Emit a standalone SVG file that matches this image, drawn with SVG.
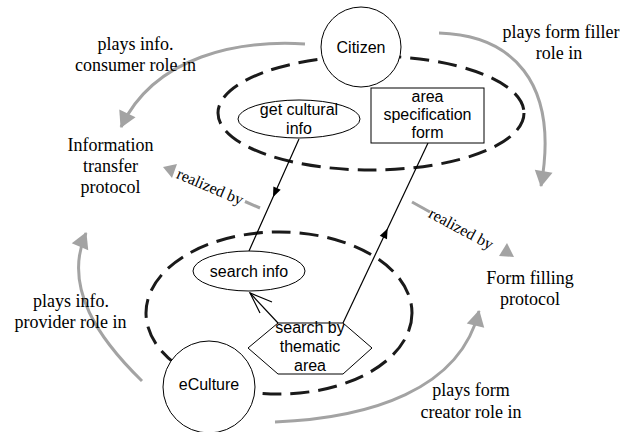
<svg xmlns="http://www.w3.org/2000/svg" width="624" height="432" viewBox="0 0 624 432">
<style>
.bg{fill:#fff}
.dash{fill:none;stroke:#1a1a1a;stroke-width:3;stroke-dasharray:19 9}
.node{fill:#fff;stroke:#000;stroke-width:1}
.sans{font-family:'Liberation Sans',Arial,sans-serif;font-size:16px;fill:#000;text-anchor:middle}
.tr{font-family:'Liberation Serif','Times New Roman','DejaVu Serif',serif;font-size:18px;fill:#000;text-anchor:middle}
.rb{font-family:'Liberation Serif','Times New Roman','DejaVu Serif',serif;font-size:16px;fill:#000;text-anchor:middle}
.grey{fill:none;stroke:#a3a3a3;stroke-width:3}
.black{fill:none;stroke:#000;stroke-width:1.2}
</style>
<defs>
<marker id="gh" markerUnits="userSpaceOnUse" markerWidth="18" markerHeight="18" viewBox="0 0 16 18" refX="15" refY="9" orient="auto" overflow="visible">
<path d="M0,0 L16,9 L0,18 z" fill="#a3a3a3"/>
</marker>
<marker id="bh" markerUnits="userSpaceOnUse" markerWidth="10" markerHeight="8" viewBox="0 0 10 8" refX="5" refY="4" orient="auto" overflow="visible">
<path d="M0,0 L10,4 L0,8 z" fill="#000"/>
</marker>
</defs>
<rect class="bg" x="0" y="0" width="624" height="432"/>

<g id="scopes">
<ellipse class="dash" cx="371" cy="113" rx="153" ry="57"/>
<ellipse class="dash" cx="279" cy="313" rx="133" ry="81"/>
</g>

<g id="connectors">
<path class="grey" d="M305,44 C240,40 155,55 121,127" marker-end="url(#gh)"/>
<path class="grey" d="M439,33 C510,35 560,80 541,186" marker-end="url(#gh)"/>
<path class="grey" d="M142,381 C100,340 62,288 86,233" marker-end="url(#gh)"/>
<path class="grey" d="M275,422 C370,418 460,390 479,311" marker-end="url(#gh)"/>
<line class="grey" x1="260" y1="208" x2="245" y2="201.5"/>
<path d="M163,167 L177,164 L172,178 z" fill="#a3a3a3"/>
<line class="grey" x1="412" y1="202" x2="430" y2="212"/>
<path d="M514,257 L499,256 L507,243 z" fill="#a3a3a3"/>
<path class="black" d="M299,139 L275,192.8 L249,251" marker-mid="url(#bh)"/>
<path class="black" d="M343,323 L385.5,233 L428,143" marker-mid="url(#bh)"/>
<line class="black" x1="278" y1="323" x2="250" y2="293"/>
<polyline class="black" points="272,302 250,293 260,313"/>
</g>

<g id="citizen">
<circle class="node" cx="361" cy="47" r="40"/>
<text class="sans" x="361" y="53">Citizen</text>
</g>
<g id="eculture">
<circle class="node" cx="209" cy="387" r="46"/>
<text class="sans" x="209" y="390">eCulture</text>
</g>
<g id="get-cultural-info">
<ellipse class="node" cx="299" cy="119" rx="61" ry="19"/>
<text class="sans" x="299" y="115">get cultural</text>
<text class="sans" x="299" y="134">info</text>
</g>
<g id="area-specification-form">
<rect class="node" x="371" y="88" width="113" height="55"/>
<text class="sans" x="427.5" y="102">area</text>
<text class="sans" x="427.5" y="120">specification</text>
<text class="sans" x="427.5" y="138">form</text>
</g>
<g id="search-info">
<ellipse class="node" cx="249" cy="271" rx="56" ry="20"/>
<text class="sans" x="249" y="277">search info</text>
</g>
<g id="search-by-thematic-area">
<polygon class="node" points="248,348 278,323 343,323 372,348 343,374 278,374"/>
<text class="sans" x="310" y="333">search by</text>
<text class="sans" x="310" y="352">thematic</text>
<text class="sans" x="310" y="371">area</text>
</g>
<g id="information-transfer-protocol">
<text class="tr" x="110.5" y="151">Information</text>
<text class="tr" x="110.5" y="172">transfer</text>
<text class="tr" x="110.5" y="193">protocol</text>
</g>
<g id="form-filling-protocol">
<text class="tr" x="530" y="284">Form filling</text>
<text class="tr" x="530" y="305">protocol</text>
</g>

<g id="labels">
<text class="tr" x="135.5" y="50">plays info.</text>
<text class="tr" x="135.5" y="71">consumer role in</text>
<text class="tr" x="561" y="38">plays form filler</text>
<text class="tr" x="559" y="59">role in</text>
<text class="tr" x="71" y="307">plays info.</text>
<text class="tr" x="70.5" y="328">provider role in</text>
<text class="tr" x="471" y="396">plays form</text>
<text class="tr" x="471" y="418">creator role in</text>
<text class="rb" transform="translate(210,187) rotate(23)" x="0" y="5">realized by</text>
<text class="rb" transform="translate(461,229) rotate(28.3)" x="0" y="5">realized by</text>
</g>
</svg>
